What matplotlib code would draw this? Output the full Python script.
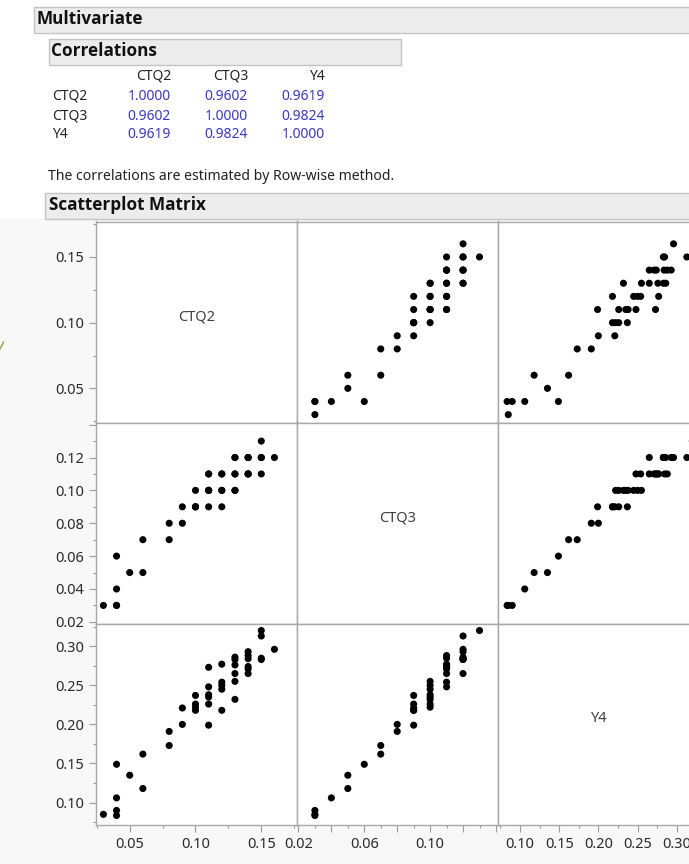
import matplotlib
matplotlib.use("Agg")
import matplotlib.pyplot as plt
from matplotlib.patches import Rectangle
from matplotlib.ticker import FixedLocator, FixedFormatter, NullFormatter

plt.rcParams['font.family'] = ['Noto Sans', 'DejaVu Sans']
BOLD_FAMILY = ['Open Sans', 'Lato', 'DejaVu Sans']

# ---------------- data ----------------
variables = ["CTQ2", "CTQ3", "Y4"]
ctq2 = [0.03, 0.04, 0.04, 0.04, 0.04, 0.05, 0.06, 0.06, 0.08, 0.08, 0.09, 0.09,
        0.10, 0.10, 0.10, 0.10, 0.11, 0.11, 0.11, 0.11, 0.11, 0.11,
        0.12, 0.12, 0.12, 0.12, 0.12, 0.13, 0.13, 0.13, 0.13, 0.13, 0.13,
        0.14, 0.14, 0.14, 0.14, 0.14, 0.14, 0.15, 0.15, 0.15, 0.15, 0.16]
ctq3 = [0.03, 0.03, 0.03, 0.04, 0.06, 0.05, 0.05, 0.07, 0.07, 0.08, 0.08, 0.09,
        0.09, 0.09, 0.09, 0.10, 0.09, 0.10, 0.10, 0.10, 0.11, 0.11,
        0.09, 0.10, 0.10, 0.11, 0.11, 0.10, 0.10, 0.11, 0.11, 0.12, 0.12,
        0.11, 0.11, 0.12, 0.12, 0.12, 0.11, 0.11, 0.12, 0.12, 0.13, 0.12]
y4 = [0.085, 0.0835, 0.090, 0.106, 0.149, 0.135, 0.118, 0.162, 0.173, 0.191, 0.200, 0.221,
      0.237, 0.226, 0.218, 0.222, 0.199, 0.226, 0.235, 0.238, 0.248, 0.273,
      0.218, 0.245, 0.250, 0.254, 0.277, 0.232, 0.255, 0.265, 0.276, 0.283, 0.286,
      0.271, 0.288, 0.265, 0.284, 0.293, 0.274, 0.2846, 0.283, 0.313, 0.320, 0.296]

corr_values = [[1.0000, 0.9602, 0.9619],
               [0.9602, 1.0000, 0.9824],
               [0.9619, 0.9824, 1.0000]]

axis_limits = {"CTQ2": (0.024, 0.1770), "CTQ3": (0.0190, 0.1413), "Y4": (0.0720, 0.3290)}
major_ticks = {"CTQ2": [0.05, 0.10, 0.15],
               "CTQ3": [0.02, 0.04, 0.06, 0.08, 0.10, 0.12, 0.14],
               "Y4": [0.10, 0.15, 0.20, 0.25, 0.30]}
minor_ticks = {"CTQ2": [0.025, 0.075, 0.125, 0.175],
               "CTQ3": [0.03, 0.05, 0.07, 0.09, 0.11, 0.13],
               "Y4": [0.075, 0.125, 0.175, 0.225, 0.275, 0.325]}
ylabels = {"CTQ2": ["0.05", "0.10", "0.15"],
           "CTQ3": ["0.02", "0.04", "0.06", "0.08", "0.10", "0.12", ""],
           "Y4": ["0.10", "0.15", "0.20", "0.25", "0.30"]}
xlabels = {"CTQ2": ["0.05", "0.10", "0.15"],
           "CTQ3": ["0.02", "", "0.06", "", "0.10", "", ""],
           "Y4": ["0.10", "0.15", "0.20", "0.25", "0.30"]}

columns = {"CTQ2": ctq2, "CTQ3": ctq3, "Y4": y4}

# ---------------- figure ----------------
W, H = 689, 864
fig = plt.figure(figsize=(W / 100, H / 100), dpi=100, facecolor="white")

bg = fig.add_axes([0, 0, 1, 1], zorder=0)
bg.set_xlim(0, W)
bg.set_ylim(H, 0)
bg.axis("off")

# very light gray area behind the scatterplot matrix
bg.add_patch(Rectangle((0, 218), W, H - 218, facecolor="#f8f8f8", edgecolor="none"))
# small olive caret fragment at the left edge
bg.plot([0, 3.5], [349, 342], color="#9a9a40", lw=1.0)

header_face = "#ececec"
header_edge = "#c4c4c4"
bg.add_patch(Rectangle((33.5, 6.5), 700, 26, facecolor=header_face, edgecolor=header_edge, lw=1))
bg.text(36, 19.5, "Multivariate", fontsize=12.3, fontweight="bold", family=BOLD_FAMILY,
        va="center", ha="left", color="#111111")
bg.add_patch(Rectangle((48.5, 38.5), 352, 26, facecolor=header_face, edgecolor=header_edge, lw=1))
bg.text(51, 51.5, "Correlations", fontsize=12.3, fontweight="bold", family=BOLD_FAMILY,
        va="center", ha="left", color="#111111")

col_x = [171, 248, 325]
row_y = [96, 116, 135]
for j, name in enumerate(variables):
    bg.text(col_x[j], 76, name, fontsize=10, ha="right", va="center", color="#222222")
for i, name in enumerate(variables):
    bg.text(52, row_y[i], name, fontsize=10, ha="left", va="center", color="#222222")
    for j in range(3):
        bg.text(col_x[j], row_y[i], f"{corr_values[i][j]:.4f}", fontsize=10,
                ha="right", va="center", color="#3a3ac4")
bg.text(48, 177, "The correlations are estimated by Row-wise method.", fontsize=10.1,
        ha="left", va="center", color="#222222")

bg.add_patch(Rectangle((44.5, 192.5), 700, 26, facecolor=header_face, edgecolor=header_edge, lw=1))
bg.text(49, 205.5, "Scatterplot Matrix", fontsize=12.3, fontweight="bold", family=BOLD_FAMILY,
        va="center", ha="left", color="#111111")

# ---------------- scatterplot matrix ----------------
left0, top0 = 95.5, 221.5
cw, rh = 201.3, 201.0
for i, yname in enumerate(variables):
    for j, xname in enumerate(variables):
        l = left0 + j * cw
        t = top0 + i * rh
        ax = fig.add_axes([l / W, 1 - (t + rh) / H, cw / W, rh / H], zorder=2)
        ax.set_facecolor("white")
        ax.set_xlim(*axis_limits[xname])
        ax.set_ylim(*axis_limits[yname])
        for s in ax.spines.values():
            s.set_color("#a8a8a8")
            s.set_linewidth(1.0)
        if i == j:
            ax.text(0.5, 0.525, yname, transform=ax.transAxes, ha="center", va="center",
                    fontsize=10.5, color="#404040")
        else:
            ax.scatter(columns[xname], columns[yname], s=26, color="black",
                       edgecolors="none", zorder=3, clip_on=True)
        ax.xaxis.set_major_locator(FixedLocator(major_ticks[xname]))
        ax.xaxis.set_minor_locator(FixedLocator(minor_ticks[xname]))
        ax.yaxis.set_major_locator(FixedLocator(major_ticks[yname]))
        ax.yaxis.set_minor_locator(FixedLocator(minor_ticks[yname]))
        ax.tick_params(which="both", direction="out", color="#9a9a9a", width=0.8,
                       labelsize=10.5, labelcolor="#2a2a2a")
        ax.tick_params(which="major", length=5)
        ax.tick_params(which="minor", length=2.5)
        if j == 0:
            ax.yaxis.set_major_formatter(FixedFormatter(ylabels[yname]))
            ax.tick_params(axis="y", which="both", left=True, labelleft=True, pad=3)
        else:
            ax.tick_params(axis="y", which="both", left=False, labelleft=False)
        if i == 2:
            ax.xaxis.set_major_formatter(FixedFormatter(xlabels[xname]))
            ax.tick_params(axis="x", which="both", bottom=True, labelbottom=True, pad=4)
        else:
            ax.tick_params(axis="x", which="both", bottom=False, labelbottom=False)
        ax.yaxis.set_minor_formatter(NullFormatter())
        ax.xaxis.set_minor_formatter(NullFormatter())

fig.savefig("out.png", dpi=100, facecolor=fig.get_facecolor())
